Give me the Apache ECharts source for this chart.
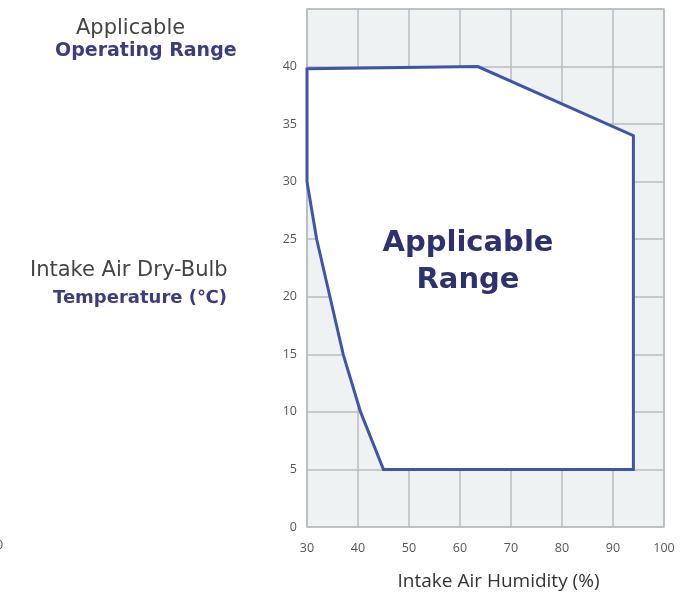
<!DOCTYPE html>
<html>
<head>
<meta charset="utf-8">
<script src="https://cdn.jsdelivr.net/npm/echarts@6/dist/echarts.min.js"></script>
<style>
  html, body { margin: 0; padding: 0; background: #fff; }
  #chart { width: 687px; height: 595px; }
</style>
</head>
<body>
<div id="chart"></div>
<script>
// boundary of the operating envelope, going clockwise from top-left
const humidity = [30, 63.5, 94, 94, 45, 40.5, 37.1, 34.5, 31.9, 30]
const temperature = [39.8, 40, 34, 5, 5, 10, 15, 20, 25, 30]

const xTicks = [30, 40, 50, 60, 70, 80, 90, 100]
const yTicks = [0, 5, 10, 15, 20, 25, 30, 35, 40]

const navy = '#3a3f7c'
const gray = '#555'

const chart = echarts.init(document.getElementById('chart'))

chart.setOption({
  backgroundColor: '#fff',
  animation: false,
  grid: {
    left: 307,
    right: 23,
    top: 9,
    bottom: 68,
    outerBoundsMode: 'none',
    show: true,
    backgroundColor: '#eef2f3',
    borderColor: '#b9bdc1',
    borderWidth: 1.5
  },
  xAxis: {
    type: 'value',
    min: 30,
    max: 100,
    interval: 10,
    name: 'Intake Air Humidity (%)',
    nameLocation: 'middle',
    nameGap: 45,
    nameTextStyle: {
      color: '#333',
      fontSize: 19,
      fontFamily: 'Open Sans',
      padding: [0, 0, 0, 26]
    },
    axisLine: { show: false },
    axisTick: { show: false },
    axisLabel: {
      color: gray,
      fontSize: 12.5,
      fontFamily: 'Open Sans',
      margin: 15,
      formatter: v => xTicks.includes(v) ? String(v) : ''
    },
    splitLine: { show: true, lineStyle: { color: '#b9bdc1', width: 1.5 } }
  },
  yAxis: {
    type: 'value',
    min: 0,
    max: 45,
    interval: 5,
    axisLine: { show: false },
    axisTick: { show: false },
    axisLabel: {
      color: gray,
      fontSize: 12.5,
      fontFamily: 'Open Sans',
      margin: 10,
      verticalAlign: 'middle',
      padding: [0, 0, 4, 0],
      formatter: v => yTicks.includes(v) ? String(v) : ''
    },
    splitLine: { show: true, lineStyle: { color: '#b9bdc1', width: 1.5 } }
  },
  graphic: [
    {
      type: 'text', left: 76, top: 18, z: 100,
      style: { text: 'Applicable', fill: '#444', font: '21px "DejaVu Sans"' }
    },
    {
      type: 'text', left: 55, top: 42, z: 100,
      style: { text: 'Operating Range', fill: navy, font: 'bold 19px "DejaVu Sans"' }
    },
    {
      type: 'text', left: 30, top: 260, z: 100,
      style: { text: 'Intake Air Dry-Bulb', fill: '#444', font: '21px "DejaVu Sans"' }
    },
    {
      type: 'text', left: 53, top: 289, z: 100,
      style: { text: 'Temperature (℃)', fill: navy, font: 'bold 18px "DejaVu Sans"' }
    },
    {
      type: 'text', left: -4, top: 539, z: 100,
      style: { text: '0', fill: gray, font: '12.5px "Open Sans"' }
    },
    {
      type: 'text', x: 468, y: 243, z: 100,
      style: {
        text: 'Applicable', fill: '#2e3170',
        font: 'bold 29px "DejaVu Sans"', align: 'center', verticalAlign: 'middle'
      }
    },
    {
      type: 'text', x: 468, y: 280, z: 100,
      style: {
        text: 'Range', fill: '#2e3170',
        font: 'bold 29px "DejaVu Sans"', align: 'center', verticalAlign: 'middle'
      }
    }
  ],
  series: [
    {
      type: 'custom',
      data: [0],
      silent: true,
      z: 2,
      renderItem: (params, api) => {
        const points = humidity.map((h, i) => api.coord([h, temperature[i]]))
        return {
          type: 'polygon',
          shape: { points },
          style: {
            fill: '#fff',
            stroke: '#3d56a6',
            lineWidth: 3,
            lineJoin: 'miter'
          }
        }
      }
    }
  ]
})
</script>
</body>
</html>
